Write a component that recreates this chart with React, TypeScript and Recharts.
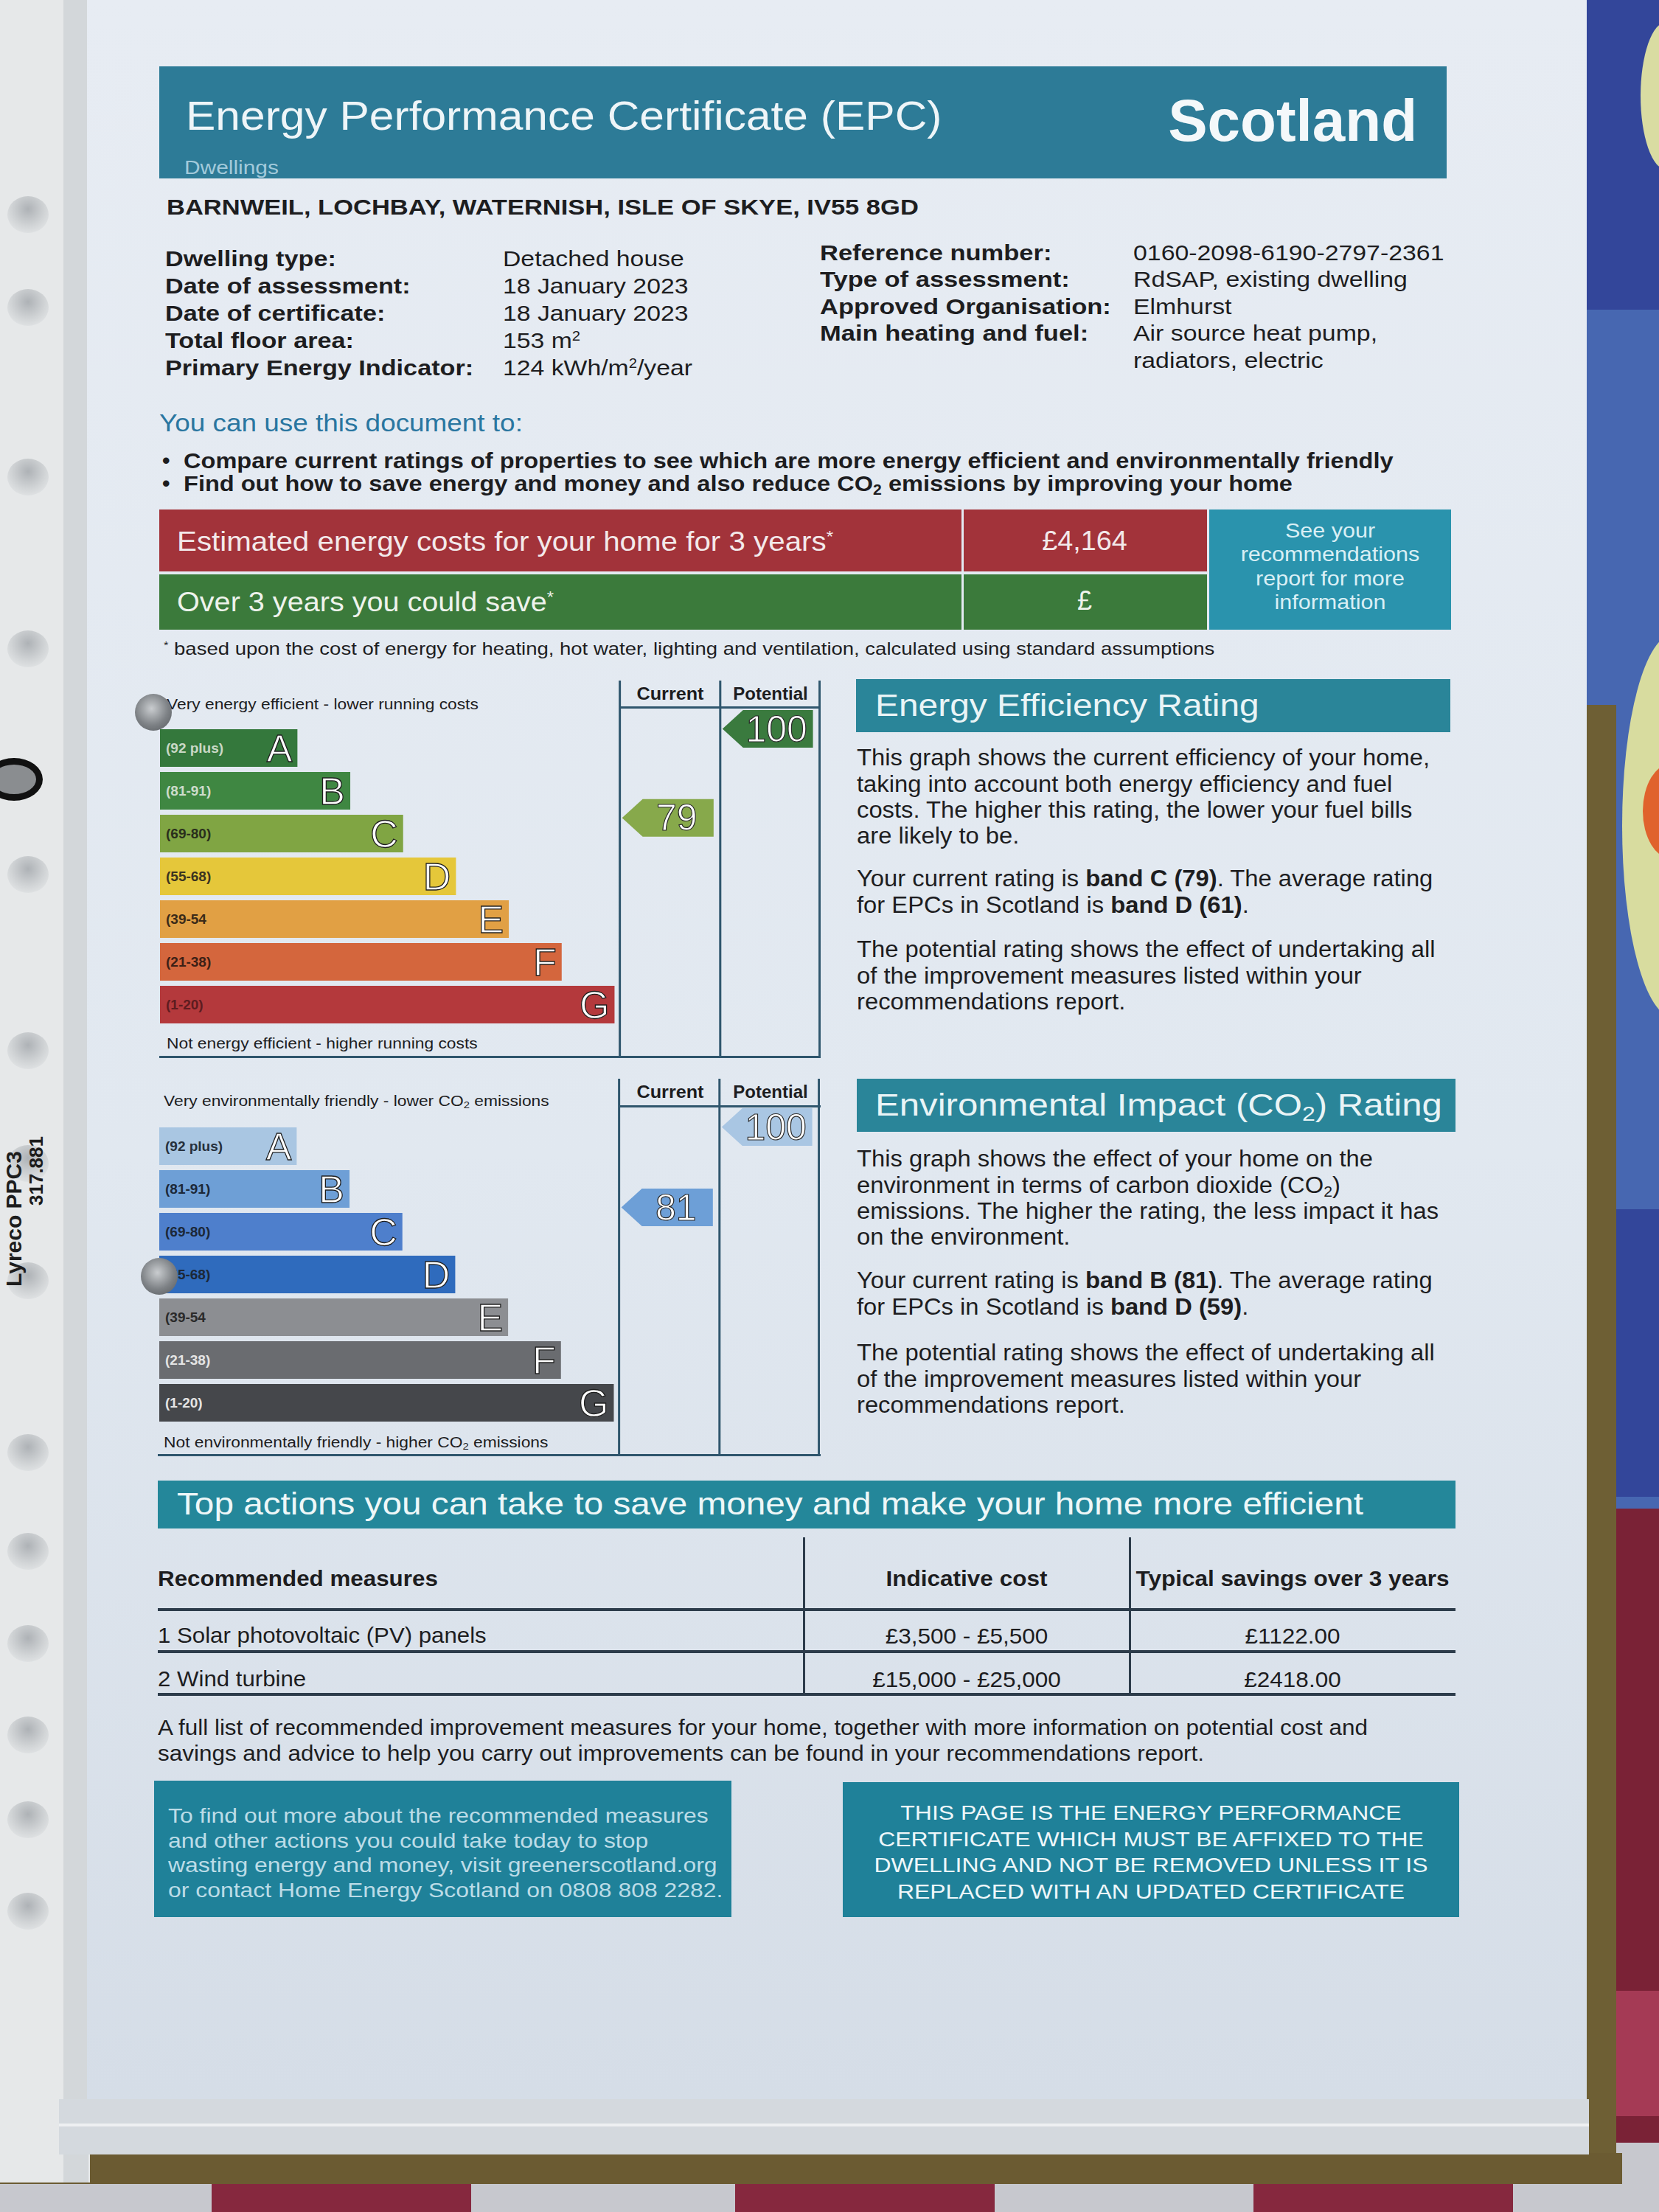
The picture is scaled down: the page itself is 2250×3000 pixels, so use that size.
import React from "react";
import { Bar, BarChart, ReferenceArea, ReferenceLine, XAxis, YAxis } from "recharts";

const FONT = '"Liberation Sans", Arial, Helvetica, sans-serif';

// rating bands, top (best) to bottom (worst)
const BANDS = ["A", "B", "C", "D", "E", "F", "G"];
const BAND_RANGES = ["(92 plus)", "(81-91)", "(69-80)", "(55-68)", "(39-54", "(21-38)", "(1-20)"];
const BAND_LOW = [92, 81, 69, 55, 39, 21, 1];
const BAND_HIGH = [100, 91, 80, 68, 54, 38, 20];
const BAND_LENGTH = [26, 36, 46, 56, 66, 76, 86];

const EE_COLORS = ["#34783c", "#3f8742", "#80a543", "#e5c73a", "#e1a044", "#d4663d", "#b4393c"];
const EE_RANGE_INK = ["#c9d8c6", "#cddccb", "#2a2f1c", "#3b3420", "#3a2a18", "#3c2016", "#5e1c20"];
const EI_COLORS = ["#a9c6e2", "#6e9fd6", "#4e7fcc", "#2f6bbd", "#8c8e92", "#6a6c70", "#45474b"];
const EI_RANGE_INK = ["#26303c", "#1c2838", "#1c2838", "#1c2838", "#2a2a2a", "#e4e4e4", "#e4e4e4"];

const EE_CURRENT = 79;
const EE_POTENTIAL = 100;
const EE_AVERAGE = 61;
const EI_CURRENT = 81;
const EI_POTENTIAL = 100;
const EI_AVERAGE = 59;

const COST_3_YEARS = "£4,164";
const SAVE_3_YEARS = "£";

const MEASURES = ["1 Solar photovoltaic (PV) panels", "2 Wind turbine"];
const MEASURE_COSTS = ["£3,500 - £5,500", "£15,000 - £25,000"];
const MEASURE_SAVINGS = ["£1122.00", "£2418.00"];

// chart geometry (layout only)
const CHART_W = 896;
const CHART_H = 511;
const X_MAX = 125;
const CUR_COL = [87, 106];
const POT_COL = [106, 124.8];
const BAR_H = 51;
const LINE = "#2f566d";

const bandIndex = (r: number) => BAND_LOW.findIndex((lo, i) => r >= lo && r <= BAND_HIGH[i]);

function bandShape(p: any) {
  const { x, y, width, height, payload } = p;
  const cy = y + height / 2;
  return (
    <g>
      <rect x={x} y={y} width={width} height={height} fill={payload.fill} />
      <text x={x + 8} y={cy + 6} fontSize={19} fontWeight="bold" fill={payload.ink} fontFamily={FONT}>
        {payload.range}
      </text>
      <text
        x={x + width - 7}
        y={cy + 18}
        textAnchor="end"
        fontSize={52}
        fill="#ffffff"
        stroke="#1e1e1e"
        strokeWidth={1.3}
        fontFamily={FONT}
      >
        {payload.band}
      </text>
    </g>
  );
}

const arrowShape = (rating: number, fill: string) => (p: any) => {
  const bi = bandIndex(rating);
  const frac = (rating - BAND_LOW[bi]) / (BAND_HIGH[bi] - BAND_LOW[bi]);
  const top = p.y + (p.height - BAR_H) / 2;
  const cy = top + BAR_H * (1 - frac);
  const l = p.x + 3;
  const r = p.x + p.width - 9;
  const tip = 28;
  const h = BAR_H / 2;
  const pts = `${l},${cy} ${l + tip},${cy - h} ${r},${cy - h} ${r},${cy + h} ${l + tip},${cy + h}`;
  return (
    <g>
      <polygon points={pts} fill={fill} />
      <text
        x={(l + tip + r) / 2 - 2}
        y={cy + 17}
        textAnchor="middle"
        fontSize={50}
        fill="#ffffff"
        stroke="#2a2a2a"
        strokeWidth={1.2}
        fontFamily={FONT}
      >
        {rating}
      </text>
    </g>
  );
};

function RatingChart({
  colors,
  ink,
  current,
  potential,
  curFill,
  potFill
}: {
  colors: string[];
  ink: string[];
  current: number;
  potential: number;
  curFill: string;
  potFill: string;
}) {
  const data = BANDS.map((band, i) => ({
    band,
    length: BAND_LENGTH[i],
    range: BAND_RANGES[i],
    fill: colors[i],
    ink: ink[i]
  }));
  const cb = BANDS[bandIndex(current)];
  const pb = BANDS[bandIndex(potential)];
  return (
    <BarChart
      width={CHART_W}
      height={CHART_H}
      data={data}
      layout="vertical"
      margin={{ top: 0, right: 0, bottom: 0, left: 0 }}
      barSize={BAR_H}
    >
      <XAxis type="number" domain={[0, X_MAX]} hide allowDataOverflow />
      <YAxis type="category" dataKey="band" hide padding={{ top: 62, bottom: 43 }} />
      <Bar dataKey="length" isAnimationActive={false} shape={bandShape} />
      {[CUR_COL[0], POT_COL[0], POT_COL[1]].map((x) => (
        <ReferenceLine key={x} x={x} stroke={LINE} strokeWidth={3} />
      ))}
      <ReferenceArea x1={CUR_COL[0]} x2={CUR_COL[1]} y1={cb} y2={cb} shape={arrowShape(current, curFill)} />
      <ReferenceArea x1={POT_COL[0]} x2={POT_COL[1]} y1={pb} y2={pb} shape={arrowShape(potential, potFill)} />
    </BarChart>
  );
}

type TP = {
  x: number;
  y: number;
  size: number;
  lh?: number;
  w?: number;
  sx?: number;
  align?: "left" | "center" | "right";
  bold?: boolean;
  color?: string;
  children: React.ReactNode;
};

// y is the centre of the first line; sx stretches the text sideways like the photo does
function Txt({ x, y, size, lh, w = 1200, sx = 1, align = "left", bold, color = "#1d1d1f", children }: TP) {
  const L = lh ?? Math.round(size * 1.15);
  const left = align === "left" ? x : align === "center" ? x - w / 2 : x - w;
  return (
    <div
      style={{
        position: "absolute",
        left,
        top: y - L / 2,
        width: w,
        textAlign: align,
        fontSize: size,
        lineHeight: `${L}px`,
        fontWeight: bold ? "bold" : "normal",
        color,
        fontFamily: FONT,
        whiteSpace: "nowrap",
        transform: `scaleX(${sx})`,
        transformOrigin: align === "left" ? "left center" : align === "center" ? "center center" : "right center"
      }}
    >
      {children}
    </div>
  );
}

const Box = ({ x, y, w, h, c }: { x: number; y: number; w: number; h: number; c: string }) => (
  <div style={{ position: "absolute", left: x, top: y, width: w, height: h, background: c }} />
);

const Sub = ({ children }: { children: React.ReactNode }) => (
  <span style={{ fontSize: "0.65em", verticalAlign: "-0.25em", lineHeight: 0 }}>{children}</span>
);
const Sup = ({ children }: { children: React.ReactNode }) => (
  <span style={{ fontSize: "0.6em", verticalAlign: "0.55em", lineHeight: 0 }}>{children}</span>
);

const HOLES = [291, 417, 647, 880, 1186, 1425, 1578, 1737, 1970, 2104, 2229, 2353, 2468, 2592];

const Dot = ({ x, y, d }: { x: number; y: number; d: number }) => (
  <div
    style={{
      position: "absolute",
      left: x - d / 2,
      top: y - d / 2,
      width: d,
      height: d,
      borderRadius: "50%",
      background: "radial-gradient(circle at 45% 40%, #c9cccf 0%, #7d8185 55%, #55595d 100%)"
    }}
  />
);

function Backdrop() {
  return (
    <>
      {/* cloth */}
      <Box x={0} y={2900} w={2250} h={100} c="#c7c8ce" />
      {[287, 997, 1700].map((x) => (
        <Box key={x} x={x} y={2900} w={352} h={100} c="#86283e" />
      ))}
      {/* painting on the right */}
      <Box x={2150} y={0} w={100} h={2050} c="#4767b1" />
      <Box x={2150} y={0} w={100} h={420} c="#33469a" />
      <div style={{ position: "absolute", left: 2225, top: 30, width: 70, height: 200, borderRadius: "50%", background: "#d9dca2" }} />
      <div style={{ position: "absolute", left: 2200, top: 860, width: 140, height: 520, borderRadius: "50%", background: "#d8dc9f" }} />
      <div style={{ position: "absolute", left: 2228, top: 1035, width: 80, height: 130, borderRadius: "50%", background: "#e0622c" }} />
      <Box x={2150} y={1640} w={100} h={390} c="#33469a" />
      <Box x={2150} y={2046} w={100} h={860} c="#7a2236" />
      <Box x={2150} y={2700} w={100} h={170} c="#a53a55" />
      {/* straw frame */}
      <Box x={2152} y={956} w={40} h={2000} c="#6e5f34" />
      <Box x={0} y={2920} w={2200} h={42} c="#6b5b32" />
      {/* sleeve */}
      <Box x={0} y={0} w={122} h={2960} c="#e6e8e9" />
      <Box x={86} y={0} w={34} h={2960} c="#d3d7da" />
      {HOLES.map((y) => (
        <div
          key={y}
          style={{
            position: "absolute",
            left: 10,
            top: y - 25,
            width: 56,
            height: 50,
            borderRadius: "50%",
            background: "radial-gradient(circle at 50% 35%, #aeb2b6 0%, #d2d5d7 55%, #eceeef 100%)"
          }}
        />
      ))}
      <div
        style={{
          position: "absolute",
          left: -20,
          top: 1028,
          width: 60,
          height: 40,
          borderRadius: "50%",
          border: "9px solid #111",
          background: "#8a8d90"
        }}
      />
      {/* paper */}
      <div
        style={{
          position: "absolute",
          left: 118,
          top: 0,
          width: 2034,
          height: 2847,
          background: "linear-gradient(180deg, #e7ecf3 0%, #e1e8f0 55%, #d5dde7 100%)"
        }}
      />
      <Box x={80} y={2847} w={2075} h={75} c="#d4d9de" />
      <Box x={80} y={2880} w={2075} h={4} c="#eef0f2" />
      <div
        style={{
          position: "absolute",
          left: 4,
          top: 1745,
          transform: "rotate(-90deg)",
          transformOrigin: "left top",
          fontFamily: FONT,
          fontWeight: "bold",
          fontSize: 30,
          lineHeight: "30px",
          color: "#1d1d1d",
          whiteSpace: "nowrap"
        }}
      >
        <div>Lyreco PPC3</div>
        <div style={{ paddingLeft: 110, fontSize: 26 }}>317.881</div>
      </div>
    </>
  );
}

export default function App() {
  const eeBand = BANDS[bandIndex(EE_CURRENT)];
  const eiBand = BANDS[bandIndex(EI_CURRENT)];
  const eeAvgBand = BANDS[bandIndex(EE_AVERAGE)];
  const eiAvgBand = BANDS[bandIndex(EI_AVERAGE)];
  return (
    <div
      style={{
        position: "absolute",
        left: 0,
        top: 0,
        width: 2250,
        height: 3000,
        overflow: "hidden",
        background: "#c9cbd0",
        fontFamily: FONT
      }}
    >
      <Backdrop />

      {/* title band */}
      <Box x={216} y={90} w={1746} h={152} c="#2d7b97" />
      <Txt x={252} y={157} size={55} sx={1.1} color="#eef5f8">
        Energy Performance Certificate (EPC)
      </Txt>
      <Txt x={1922} y={164} size={80} bold align="right" color="#f4f8fa">
        Scotland
      </Txt>
      <Txt x={250} y={227} size={26} sx={1.15} color="#a2cadb">
        Dwellings
      </Txt>

      <Txt x={226} y={280} size={30} sx={1.15} bold>
        BARNWEIL, LOCHBAY, WATERNISH, ISLE OF SKYE, IV55 8GD
      </Txt>

      <Txt x={224} y={350} size={30} lh={37} sx={1.14} bold>
        Dwelling type:
        <br />
        Date of assessment:
        <br />
        Date of certificate:
        <br />
        Total floor area:
        <br />
        Primary Energy Indicator:
      </Txt>
      <Txt x={682} y={350} size={30} lh={37} sx={1.125}>
        Detached house
        <br />
        18 January 2023
        <br />
        18 January 2023
        <br />
        153 m<Sup>2</Sup>
        <br />
        124 kWh/m<Sup>2</Sup>/year
      </Txt>
      <Txt x={1112} y={343} size={30} lh={36.5} sx={1.15} bold>
        Reference number:
        <br />
        Type of assessment:
        <br />
        Approved Organisation:
        <br />
        Main heating and fuel:
      </Txt>
      <Txt x={1537} y={343} size={30} lh={36.5} sx={1.128}>
        0160-2098-6190-2797-2361
        <br />
        RdSAP, existing dwelling
        <br />
        Elmhurst
        <br />
        Air source heat pump,
        <br />
        radiators, electric
      </Txt>

      <Txt x={216} y={573} size={34} sx={1.085} color="#2a76a0">
        You can use this document to:
      </Txt>
      <Txt x={220} y={624} size={30} lh={31} bold>
        •<br />•
      </Txt>
      <Txt x={249} y={624} size={30} lh={31} sx={1.085} bold>
        Compare current ratings of properties to see which are more energy efficient and environmentally friendly
        <br />
        Find out how to save energy and money and also reduce CO<Sub>2</Sub> emissions by improving your home
      </Txt>

      {/* cost boxes */}
      <Box x={216} y={691} w={1088} h={84} c="#a2333a" />
      <Box x={1307} y={691} w={330} h={84} c="#a2333a" />
      <Box x={216} y={779} w={1088} h={75} c="#3b7a3b" />
      <Box x={1307} y={779} w={330} h={75} c="#3b7a3b" />
      <Box x={1640} y={691} w={328} h={163} c="#2a93ad" />
      <Txt x={240} y={734} size={36} sx={1.12} color="#f3e9ea">
        Estimated energy costs for your home for 3 years<Sup>*</Sup>
      </Txt>
      <Txt x={1471} y={733} size={36} sx={1.05} w={320} align="center" color="#f3e9ea">
        {COST_3_YEARS}
      </Txt>
      <Txt x={240} y={816} size={36} sx={1.1} color="#eef3ec">
        Over 3 years you could save<Sup>*</Sup>
      </Txt>
      <Txt x={1471} y={814} size={36} w={320} align="center" color="#eef3ec">
        {SAVE_3_YEARS}
      </Txt>
      <Txt x={1804} y={720} size={28} lh={32.5} sx={1.09} w={300} align="center" color="#d9eff5">
        See your
        <br />
        recommendations
        <br />
        report for more
        <br />
        information
      </Txt>
      <Txt x={222} y={880} size={24} sx={1.146}>
        <Sup>*</Sup> based upon the cost of energy for heating, hot water, lighting and ventilation, calculated using
        standard assumptions
      </Txt>

      {/* energy efficiency chart */}
      <div style={{ position: "absolute", left: 217, top: 923 }}>
        <RatingChart
          colors={EE_COLORS}
          ink={EE_RANGE_INK}
          current={EE_CURRENT}
          potential={EE_POTENTIAL}
          curFill="#87a94b"
          potFill="#3a7a3e"
        />
      </div>
      <Box x={841} y={958} w={272} h={3} c={LINE} />
      <Box x={216} y={1432} w={897} h={3} c={LINE} />
      <Txt x={909} y={941} size={24} sx={1.05} w={130} align="center" bold>
        Current
      </Txt>
      <Txt x={1045} y={941} size={24} w={130} align="center" bold>
        Potential
      </Txt>
      <Txt x={226} y={955} size={20} sx={1.14}>
        Very energy efficient - lower running costs
      </Txt>
      <Txt x={226} y={1415} size={20} sx={1.14}>
        Not energy efficient - higher running costs
      </Txt>
      <Dot x={208} y={966} d={50} />

      <Box x={1161} y={921} w={806} h={72} c="#2a8599" />
      <Txt x={1187} y={957} size={42} sx={1.14} color="#e9f4f6">
        Energy Efficiency Rating
      </Txt>
      <Txt x={1162} y={1028} size={31} lh={35.2} sx={1.057}>
        This graph shows the current efficiency of your home,
        <br />
        taking into account both energy efficiency and fuel
        <br />
        costs. The higher this rating, the lower your fuel bills
        <br />
        are likely to be.
      </Txt>
      <Txt x={1162} y={1192} size={31} lh={35.5} sx={1.057}>
        Your current rating is{" "}
        <b>
          band {eeBand} ({EE_CURRENT})
        </b>
        . The average rating
        <br />
        for EPCs in Scotland is{" "}
        <b>
          band {eeAvgBand} ({EE_AVERAGE})
        </b>
        .
      </Txt>
      <Txt x={1162} y={1288} size={31} lh={35.2} sx={1.057}>
        The potential rating shows the effect of undertaking all
        <br />
        of the improvement measures listed within your
        <br />
        recommendations report.
      </Txt>

      {/* environmental impact chart */}
      <div style={{ position: "absolute", left: 216, top: 1463 }}>
        <RatingChart
          colors={EI_COLORS}
          ink={EI_RANGE_INK}
          current={EI_CURRENT}
          potential={EI_POTENTIAL}
          curFill="#6d9fd7"
          potFill="#a9c6e3"
        />
      </div>
      <Box x={841} y={1499} w={272} h={3} c={LINE} />
      <Box x={214} y={1972} w={899} h={3} c={LINE} />
      <Txt x={909} y={1481} size={24} sx={1.05} w={130} align="center" bold>
        Current
      </Txt>
      <Txt x={1045} y={1481} size={24} w={130} align="center" bold>
        Potential
      </Txt>
      <Txt x={222} y={1493} size={20} sx={1.14}>
        Very environmentally friendly - lower CO<Sub>2</Sub> emissions
      </Txt>
      <Txt x={222} y={1956} size={20} sx={1.14}>
        Not environmentally friendly - higher CO<Sub>2</Sub> emissions
      </Txt>
      <Dot x={216} y={1731} d={50} />

      <Box x={1162} y={1463} w={812} h={72} c="#2a8599" />
      <Txt x={1187} y={1499} size={42} sx={1.17} color="#e9f4f6">
        Environmental Impact (CO<Sub>2</Sub>) Rating
      </Txt>
      <Txt x={1162} y={1572} size={31} lh={35.2} sx={1.056}>
        This graph shows the effect of your home on the
        <br />
        environment in terms of carbon dioxide (CO<Sub>2</Sub>)
        <br />
        emissions. The higher the rating, the less impact it has
        <br />
        on the environment.
      </Txt>
      <Txt x={1162} y={1737} size={31} lh={35.5} sx={1.056}>
        Your current rating is{" "}
        <b>
          band {eiBand} ({EI_CURRENT})
        </b>
        . The average rating
        <br />
        for EPCs in Scotland is{" "}
        <b>
          band {eiAvgBand} ({EI_AVERAGE})
        </b>
        .
      </Txt>
      <Txt x={1162} y={1835} size={31} lh={35.2} sx={1.056}>
        The potential rating shows the effect of undertaking all
        <br />
        of the improvement measures listed within your
        <br />
        recommendations report.
      </Txt>

      {/* top actions */}
      <Box x={214} y={2008} w={1760} h={65} c="#24879a" />
      <Txt x={240} y={2040} size={42} sx={1.136} color="#eef7f8">
        Top actions you can take to save money and make your home more efficient
      </Txt>
      <Box x={1089} y={2085} w={3} h={213} c="#2d3c4b" />
      <Box x={1531} y={2085} w={3} h={213} c="#2d3c4b" />
      <Box x={214} y={2181} w={1760} h={4} c="#2d3c4b" />
      <Box x={214} y={2238} w={1760} h={4} c="#2d3c4b" />
      <Box x={214} y={2296} w={1760} h={4} c="#2d3c4b" />
      <Txt x={214} y={2140} size={30} sx={1.045} bold>
        Recommended measures
      </Txt>
      <Txt x={1311} y={2140} size={30} sx={1.05} w={440} align="center" bold>
        Indicative cost
      </Txt>
      <Txt x={1753} y={2140} size={30} sx={1.05} w={440} align="center" bold>
        Typical savings over 3 years
      </Txt>
      {MEASURES.map((m, i) => (
        <React.Fragment key={m}>
          <Txt x={214} y={2217 + i * 59} size={30} sx={1.04}>
            {m}
          </Txt>
          <Txt x={1311} y={2218 + i * 59} size={30} sx={1.05} w={440} align="center">
            {MEASURE_COSTS[i]}
          </Txt>
          <Txt x={1753} y={2218 + i * 59} size={30} sx={1.05} w={440} align="center">
            {MEASURE_SAVINGS[i]}
          </Txt>
        </React.Fragment>
      ))}
      <Txt x={214} y={2342} size={30} lh={35} sx={1.048}>
        A full list of recommended improvement measures for your home, together with more information on potential cost and
        <br />
        savings and advice to help you carry out improvements can be found in your recommendations report.
      </Txt>

      {/* footer boxes */}
      <Box x={209} y={2415} w={783} h={185} c="#1f8199" />
      <Box x={1143} y={2417} w={836} h={183} c="#1f8199" />
      <Txt x={228} y={2463} size={28} lh={33.5} sx={1.14} color="#bcdce7">
        To find out more about the recommended measures
        <br />
        and other actions you could take today to stop
        <br />
        wasting energy and money, visit greenerscotland.org
        <br />
        or contact Home Energy Scotland on 0808 808 2282.
      </Txt>
      <Txt x={1561} y={2459} size={28} lh={35.5} sx={1.14} w={740} align="center" color="#eef7fa">
        THIS PAGE IS THE ENERGY PERFORMANCE
        <br />
        CERTIFICATE WHICH MUST BE AFFIXED TO THE
        <br />
        DWELLING AND NOT BE REMOVED UNLESS IT IS
        <br />
        REPLACED WITH AN UPDATED CERTIFICATE
      </Txt>
    </div>
  );
}
